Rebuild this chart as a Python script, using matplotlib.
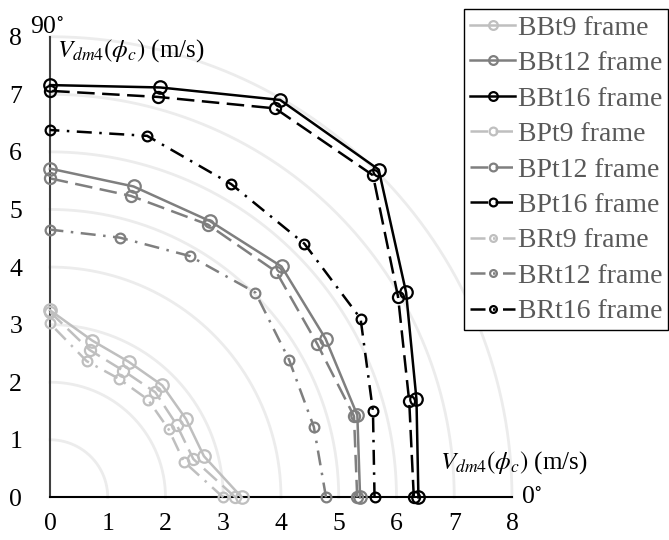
import numpy as np
import matplotlib
matplotlib.use('Agg')
import matplotlib.pyplot as plt

plt.rcParams['font.family'] = ['Liberation Serif', 'DejaVu Serif']
plt.rcParams['mathtext.fontset'] = 'stix'

# angles of the measurement directions (deg) and V_dm4 values (m/s)
angles = [0, 15, 30, 45, 60, 75, 90]

BBt9 = [3.32, 2.76, 2.72, 2.75, 2.72, 2.82, 3.25]
BBt12 = [5.37, 5.51, 5.51, 5.67, 5.54, 5.59, 5.71]
BBt16 = [6.38, 6.57, 7.12, 8.05, 7.97, 7.37, 7.16]
BPt9 = [3.21, 2.57, 2.53, 2.58, 2.54, 2.65, 3.22]
BPt12 = [5.32, 5.45, 5.34, 5.54, 5.47, 5.42, 5.54]
BPt16 = [6.30, 6.44, 6.96, 7.91, 7.80, 7.20, 7.06]
BRt9 = [3.00, 2.40, 2.37, 2.40, 2.38, 2.45, 3.02]
BRt12 = [4.78, 4.73, 4.78, 5.03, 4.84, 4.67, 4.65]
BRt16 = [5.62, 5.79, 6.21, 6.23, 6.28, 6.50, 6.38]

series = [
    ('BBt9 frame', BBt9), ('BBt12 frame', BBt12), ('BBt16 frame', BBt16),
    ('BPt9 frame', BPt9), ('BPt12 frame', BPt12), ('BPt16 frame', BPt16),
    ('BRt9 frame', BRt9), ('BRt12 frame', BRt12), ('BRt16 frame', BRt16),
]
colors = ['#bfbfbf', '#7f7f7f', '#000000']
dashes = [None, (7, 3), (6, 3, 1, 3)]
msizes = [9, 8, 7]

fig = plt.figure(figsize=(6.69, 5.4), dpi=100)
ax = fig.add_axes([0.0747, 0.079, 0.6906, 0.853])

# faint polar grid arcs
th = np.linspace(0, np.pi / 2, 200)
for r in range(1, 9):
    ax.plot(r * np.cos(th), r * np.sin(th), color='#ececec', lw=2, zorder=0, clip_on=False)

phi = np.radians(angles)
for i, (name, vals) in enumerate(series):
    kind, size = divmod(i, 3)
    v = np.array(vals)
    line, = ax.plot(v * np.cos(phi), v * np.sin(phi), color=colors[size], lw=1.8,
                    marker='o', ms=msizes[kind], mfc='none', mew=1.6,
                    label=name, clip_on=False, zorder=3)
    if dashes[kind] is not None:
        line.set_dashes(dashes[kind])

ax.set_xlim(0, 8)
ax.set_ylim(0, 8)
ax.set_xticks(range(9))
ax.set_yticks(range(9))
ax.tick_params(length=0, labelsize=18.5)
ax.tick_params(axis='x', pad=11)
ax.tick_params(axis='y', pad=20)
for s in ['top', 'right']:
    ax.spines[s].set_visible(False)
ax.spines['left'].set_color('#404040')
ax.spines['left'].set_linewidth(1.5)
ax.spines['bottom'].set_color('black')
ax.spines['bottom'].set_linewidth(1.5)

ax.text(-0.05, 7.98, '90$^{\\circ}$', ha='center', va='bottom', fontsize=18.5, clip_on=False)
ax.text(8.15, 0.0, '0$^{\\circ}$', ha='left', va='center', fontsize=18.5, clip_on=False)
ax.text(0.12, 7.76, r'$V_{dm\mathrm{4}}(\phi_c)$ (m/s)', ha='left', va='center', fontsize=18)
ax.text(6.76, 0.61, r'$V_{dm\mathrm{4}}(\phi_c)$ (m/s)', ha='left', va='center', fontsize=18)

leg = fig.legend(loc='upper right', bbox_to_anchor=(0.999, 0.983), fontsize=20,
                 frameon=True, fancybox=False, edgecolor='black', framealpha=1,
                 labelspacing=0.36, handlelength=1.6, handletextpad=0.1,
                 borderpad=0.22, markerscale=0.7, borderaxespad=0)
leg.get_frame().set_linewidth(1.0)
for t in leg.get_texts():
    t.set_color('#595959')

fig.savefig('out.png', dpi=100)
